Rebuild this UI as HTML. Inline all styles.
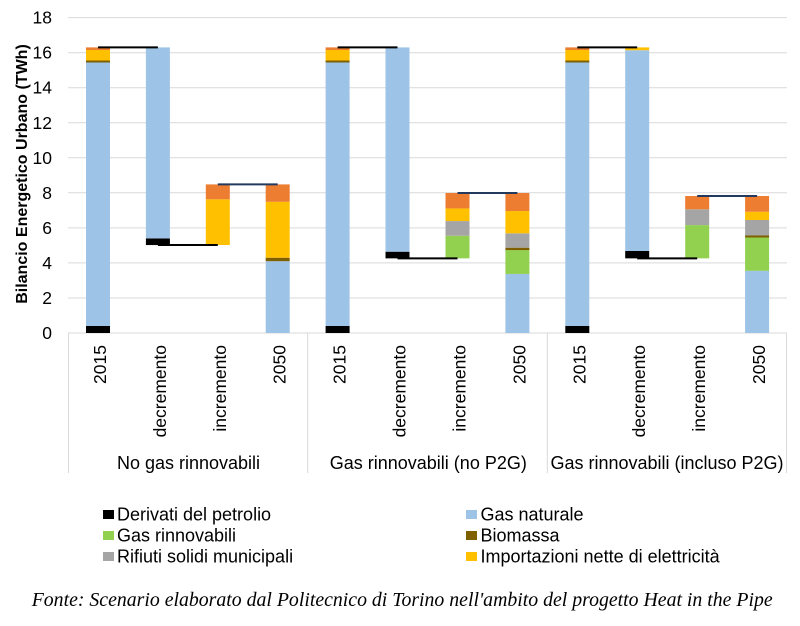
<!DOCTYPE html>
<html>
<head>
<meta charset="utf-8">
<style>
html,body{margin:0;padding:0;background:#fff;}
svg{display:block;}
text{font-family:"Liberation Sans",Arial,sans-serif;fill:#000;}
text.cap{font-family:"Liberation Serif","Times New Roman",serif;font-style:italic;}
</style>
</head>
<body>
<svg width="800" height="626" viewBox="0 0 800 626" xmlns="http://www.w3.org/2000/svg">
<rect x="0" y="0" width="800" height="626" fill="#fff"/>
<!-- gridlines -->
<g stroke="#d9d9d9" stroke-width="1">
<line x1="68" y1="17.6" x2="787" y2="17.6"/>
<line x1="68" y1="52.7" x2="787" y2="52.7"/>
<line x1="68" y1="87.7" x2="787" y2="87.7"/>
<line x1="68" y1="122.8" x2="787" y2="122.8"/>
<line x1="68" y1="157.8" x2="787" y2="157.8"/>
<line x1="68" y1="192.8" x2="787" y2="192.8"/>
<line x1="68" y1="227.9" x2="787" y2="227.9"/>
<line x1="68" y1="262.9" x2="787" y2="262.9"/>
<line x1="68" y1="298" x2="787" y2="298"/>
<line x1="68" y1="333" x2="787" y2="333"/>
<line x1="68.5" y1="333" x2="68.5" y2="473"/>
<line x1="307.7" y1="333" x2="307.7" y2="473"/>
<line x1="547.3" y1="333" x2="547.3" y2="473"/>
<line x1="786.5" y1="333" x2="786.5" y2="473"/>
</g>
<!-- y tick labels -->
<g font-size="17.5" text-anchor="end">
<text x="52" y="23.6">18</text>
<text x="52" y="58.7">16</text>
<text x="52" y="93.7">14</text>
<text x="52" y="128.8">12</text>
<text x="52" y="163.8">10</text>
<text x="52" y="198.8">8</text>
<text x="52" y="233.9">6</text>
<text x="52" y="268.9">4</text>
<text x="52" y="304">2</text>
<text x="52" y="339">0</text>
</g>
<text transform="translate(27,174) rotate(-90)" text-anchor="middle" font-size="16" font-weight="bold">Bilancio Energetico Urbano (TWh)</text>

<!-- Group 1 -->
<g>
<rect x="86" y="326" width="24" height="7" fill="#000"/>
<rect x="86" y="62.3" width="24" height="263.7" fill="#9dc3e6"/>
<rect x="86" y="60.5" width="24" height="2" fill="#7f6000"/>
<rect x="86" y="50" width="24" height="10.5" fill="#ffc000"/>
<rect x="86" y="47.4" width="24" height="2.6" fill="#ed7d31"/>
<rect x="145.9" y="238.4" width="24" height="6.65" fill="#000"/>
<rect x="145.9" y="47.4" width="24" height="191" fill="#9dc3e6"/>
<rect x="205.8" y="199.3" width="24" height="45.7" fill="#ffc000"/>
<rect x="205.8" y="184.4" width="24" height="14.9" fill="#ed7d31"/>
<rect x="265.7" y="261.2" width="24" height="71.8" fill="#9dc3e6"/>
<rect x="265.7" y="257.7" width="24" height="3.5" fill="#7f6000"/>
<rect x="265.7" y="201.8" width="24" height="55.9" fill="#ffc000"/>
<rect x="265.7" y="184.4" width="24" height="17.4" fill="#ed7d31"/>
<line x1="98" y1="47.4" x2="157.9" y2="47.4" stroke="#000" stroke-width="2"/>
<line x1="157.9" y1="245" x2="217.8" y2="245" stroke="#000" stroke-width="2"/>
<line x1="217.8" y1="184.4" x2="277.7" y2="184.4" stroke="#233a5e" stroke-width="2"/>
</g>

<!-- Group 2 -->
<g>
<rect x="325.6" y="326" width="24" height="7" fill="#000"/>
<rect x="325.6" y="62.3" width="24" height="263.7" fill="#9dc3e6"/>
<rect x="325.6" y="60.5" width="24" height="2" fill="#7f6000"/>
<rect x="325.6" y="50" width="24" height="10.5" fill="#ffc000"/>
<rect x="325.6" y="47.4" width="24" height="2.6" fill="#ed7d31"/>
<rect x="385.5" y="251.7" width="24" height="6.66" fill="#000"/>
<rect x="385.5" y="47.4" width="24" height="204.3" fill="#9dc3e6"/>
<rect x="445.5" y="235.76" width="24" height="22.6" fill="#92d050"/>
<rect x="445.5" y="221.05" width="24" height="14.71" fill="#a5a5a5"/>
<rect x="445.5" y="208.43" width="24" height="12.62" fill="#ffc000"/>
<rect x="445.5" y="193" width="24" height="15.43" fill="#ed7d31"/>
<rect x="505.4" y="273.96" width="24" height="59.04" fill="#9dc3e6"/>
<rect x="505.4" y="250.13" width="24" height="23.83" fill="#92d050"/>
<rect x="505.4" y="247.68" width="24" height="2.45" fill="#7f6000"/>
<rect x="505.4" y="233.31" width="24" height="14.37" fill="#a5a5a5"/>
<rect x="505.4" y="211.06" width="24" height="22.25" fill="#ffc000"/>
<rect x="505.4" y="193" width="24" height="18.06" fill="#ed7d31"/>
<line x1="337.6" y1="47.4" x2="397.5" y2="47.4" stroke="#000" stroke-width="2"/>
<line x1="397.5" y1="258.4" x2="457.5" y2="258.4" stroke="#000" stroke-width="2"/>
<line x1="457.5" y1="193" x2="517.4" y2="193" stroke="#233a5e" stroke-width="2"/>
</g>

<!-- Group 3 -->
<g>
<rect x="565.3" y="326" width="24" height="7" fill="#000"/>
<rect x="565.3" y="62.3" width="24" height="263.7" fill="#9dc3e6"/>
<rect x="565.3" y="60.5" width="24" height="2" fill="#7f6000"/>
<rect x="565.3" y="50" width="24" height="10.5" fill="#ffc000"/>
<rect x="565.3" y="47.4" width="24" height="2.6" fill="#ed7d31"/>
<rect x="625.2" y="251" width="24" height="7.36" fill="#000"/>
<rect x="625.2" y="50.23" width="24" height="200.77" fill="#9dc3e6"/>
<rect x="625.2" y="47.4" width="24" height="2.83" fill="#ffc000"/>
<rect x="685.2" y="225.08" width="24" height="33.28" fill="#92d050"/>
<rect x="685.2" y="209.31" width="24" height="15.77" fill="#a5a5a5"/>
<rect x="685.2" y="196" width="24" height="13.31" fill="#ed7d31"/>
<rect x="745.1" y="270.8" width="24" height="62.2" fill="#9dc3e6"/>
<rect x="745.1" y="237.34" width="24" height="33.46" fill="#92d050"/>
<rect x="745.1" y="235.5" width="24" height="2" fill="#7f6000"/>
<rect x="745.1" y="220" width="24" height="15.5" fill="#a5a5a5"/>
<rect x="745.1" y="211.76" width="24" height="8.24" fill="#ffc000"/>
<rect x="745.1" y="196" width="24" height="15.76" fill="#ed7d31"/>
<line x1="577.3" y1="47.4" x2="637.2" y2="47.4" stroke="#000" stroke-width="2"/>
<line x1="637.2" y1="258.4" x2="697.2" y2="258.4" stroke="#000" stroke-width="2"/>
<line x1="697.2" y1="196" x2="757.1" y2="196" stroke="#233a5e" stroke-width="2"/>
</g>

<!-- category labels (rotated) -->
<g font-size="17.5" text-anchor="end">
<text transform="translate(106,345) rotate(-90)">2015</text>
<text transform="translate(165.9,345) rotate(-90)">decremento</text>
<text transform="translate(225.8,345) rotate(-90)">incremento</text>
<text transform="translate(285.7,345) rotate(-90)">2050</text>
<text transform="translate(345.6,345) rotate(-90)">2015</text>
<text transform="translate(405.5,345) rotate(-90)">decremento</text>
<text transform="translate(465.5,345) rotate(-90)">incremento</text>
<text transform="translate(525.4,345) rotate(-90)">2050</text>
<text transform="translate(585.3,345) rotate(-90)">2015</text>
<text transform="translate(645.2,345) rotate(-90)">decremento</text>
<text transform="translate(705.2,345) rotate(-90)">incremento</text>
<text transform="translate(765.1,345) rotate(-90)">2050</text>
</g>
<!-- group labels -->
<g font-size="18" text-anchor="middle">
<text x="188.5" y="469">No gas rinnovabili</text>
<text x="428.3" y="469">Gas rinnovabili (no P2G)</text>
<text x="667" y="469">Gas rinnovabili (incluso P2G)</text>
</g>

<!-- legend -->
<g font-size="18">
<rect x="103" y="510" width="11" height="9" fill="#000"/>
<text x="117" y="520.5">Derivati del petrolio</text>
<rect x="103" y="531" width="11" height="9" fill="#92d050"/>
<text x="117" y="541.5">Gas rinnovabili</text>
<rect x="103" y="552" width="11" height="9" fill="#a5a5a5"/>
<text x="117" y="562.5">Rifiuti solidi municipali</text>
<rect x="466" y="510" width="11" height="9" fill="#9dc3e6"/>
<text x="480.5" y="520.5">Gas naturale</text>
<rect x="466" y="531" width="11" height="9" fill="#7f6000"/>
<text x="480.5" y="541.5">Biomassa</text>
<rect x="466" y="552" width="11" height="9" fill="#ffc000"/>
<text x="480.5" y="562.5">Importazioni nette di elettricità</text>
</g>

<!-- caption -->
<text class="cap" x="31.7" y="606" font-size="20" textLength="741" lengthAdjust="spacingAndGlyphs" style="font-family:'Liberation Serif','Times New Roman',serif;font-style:italic;">Fonte: Scenario elaborato dal Politecnico di Torino nell'ambito del progetto Heat in the Pipe</text>
</svg>
</body>
</html>
